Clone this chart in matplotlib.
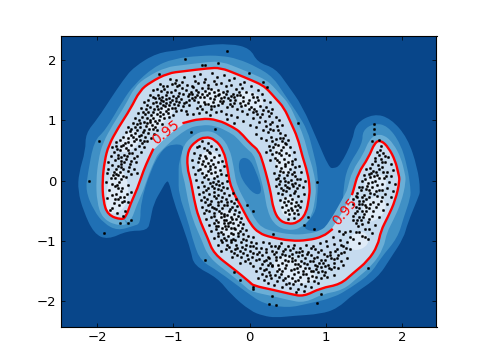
import matplotlib
matplotlib.use('Agg')
import matplotlib.pyplot as plt
from matplotlib.path import Path
from matplotlib.patches import PathPatch

# kontur der 0.95 linie, aussen (oberer mond)
upper_moon = [(-1.68,-0.65),(-1.86,-0.57),(-1.92,-0.33),(-1.93,0.0),(-1.90,0.33),(-1.85,0.58),(-1.72,0.88),
    (-1.56,1.19),(-1.44,1.49),(-1.30,1.63),(-1.07,1.78),(-0.87,1.81),(-0.55,1.86),(-0.38,1.87),(-0.16,1.76),
    (0.01,1.67),(0.17,1.58),(0.25,1.49),(0.34,1.36),(0.45,1.21),(0.54,0.96),(0.63,0.71),(0.69,0.41),(0.76,0.13),
    (0.79,-0.12),(0.78,-0.28),(0.74,-0.55),(0.63,-0.70),(0.50,-0.72),(0.38,-0.65),(0.31,-0.46),(0.28,-0.22),
    (0.24,0.0),(0.18,0.28),(0.12,0.50),(0.01,0.61),(-0.12,0.80),(-0.21,0.88),(-0.42,1.01),(-0.64,1.03),
    (-0.88,0.95),(-1.26,0.53),(-1.32,0.37),(-1.39,0.17),(-1.47,-0.13),(-1.56,-0.38),(-1.62,-0.60)]
# unterer mond, liste beginnt rechts an der beschriftung
lower_moon = [(1.09,-0.80),(0.96,-0.93),(0.76,-0.99),(0.54,-1.0),(0.28,-0.94),(0.12,-0.87),(0.01,-0.72),
    (-0.08,-0.50),(-0.25,-0.12),(-0.29,0.22),(-0.34,0.50),(-0.45,0.68),(-0.58,0.73),(-0.71,0.65),(-0.81,0.50),
    (-0.82,0.22),(-0.77,0.0),(-0.73,-0.30),(-0.67,-0.61),(-0.55,-0.95),(-0.47,-1.21),(-0.21,-1.46),(0.01,-1.69),
    (0.05,-1.74),(0.31,-1.81),(0.54,-1.88),(0.71,-1.92),(0.93,-1.78),(1.19,-1.72),(1.36,-1.53),(1.55,-1.33),
    (1.68,-1.08),(1.72,-0.83),(1.81,-0.61),(1.91,-0.33),(1.97,0.0),(1.95,0.12),(1.91,0.33),(1.82,0.55),
    (1.72,0.67),(1.64,0.63),(1.56,0.38),(1.42,0.12),(1.36,-0.17),(1.34,-0.24)]

# aeussere baender
band_outer = [(-2.04,-0.88),(-2.18,-0.50),(-2.25,-0.17),(-2.24,0.12),(-2.15,0.50),(-2.15,0.78),(-1.99,1.03),
    (-1.82,1.36),(-1.66,1.66),(-1.52,1.88),(-1.21,2.12),(-0.90,2.16),(-0.64,2.24),(-0.25,2.27),(0.01,2.19),
    (0.10,1.96),(0.34,1.86),(0.50,1.58),(0.69,1.24),(0.89,0.66),(1.04,0.22),(1.10,0.20),(1.19,0.25),(1.35,0.66),
    (1.39,0.95),(1.63,1.11),(1.85,1.03),(2.07,0.71),(2.20,0.22),(2.24,-0.17),(2.21,-0.28),(2.07,-0.71),(2.02,-0.95),
    (1.85,-1.28),(1.68,-1.61),(1.36,-1.88),(1.15,-2.12),(0.93,-2.21),(0.58,-2.24),(0.34,-2.27),(0.18,-2.24),
    (0.01,-2.16),(-0.25,-1.88),(-0.42,-1.61),(-0.73,-1.41),(-0.77,-1.16),(-0.87,-0.78),(-1.0,-0.33),(-1.06,0.0),
    (-1.10,-0.03),(-1.14,-0.12),(-1.26,-0.38),(-1.30,-0.66),(-1.34,-0.83),(-1.60,-0.83),(-1.86,-0.98)]
band_middle = [(-2.12,0.12),(-2.04,0.66),(-1.89,0.83),(-1.66,1.33),(-1.52,1.58),(-1.26,1.88),(-1.0,2.02),(-0.64,2.07),
    (-0.38,2.07),(-0.16,2.02),(0.10,1.88),(0.31,1.71),(0.45,1.44),(0.63,1.11),(0.76,0.83),(0.83,0.50),(0.90,0.12),
    (0.89,-0.28),(0.86,-0.55),(0.67,-0.80),(0.93,-0.86),(1.13,-0.75),(1.22,-0.45),(1.23,-0.12),(1.28,0.22),(1.48,0.61),
    (1.48,0.83),(1.63,0.95),(1.81,0.91),(1.98,0.61),(2.07,0.22),(2.11,-0.12),(2.11,-0.28),(2.02,-0.61),(1.94,-0.95),
    (1.72,-1.28),(1.59,-1.54),(1.32,-1.78),(1.10,-1.94),(0.76,-2.04),(0.50,-2.11),(0.18,-2.04),(-0.03,-1.86),
    (-0.42,-1.49),(-0.64,-1.33),(-0.73,-1.05),(-0.81,-0.66),(-0.93,-0.22),(-0.93,0.05),(-0.93,0.33),(-0.84,0.58),
    (-1.0,0.61),(-1.14,0.53),(-1.30,0.17),(-1.43,-0.38),(-1.43,-0.71),(-1.52,-0.75),(-1.73,-0.83),(-1.91,-0.71),
    (-2.04,-0.50),(-2.15,-0.17)]
hole_patch = [(-0.14,0.37),(-0.01,0.38),(0.08,0.17),(0.17,-0.17),(0.10,-0.25),(-0.03,-0.12),(-0.14,0.12)]

# helle flecken im innern
light_spots = [
    [(-1.85,-0.55),(-1.65,-0.45),(-1.60,-0.10),(-1.70,0.20),(-1.82,0.05),(-1.85,-0.25)],
    [(-1.35,0.95),(-1.10,1.25),(-1.0,1.15),(-1.18,0.95),(-1.28,0.82)],
    [(-1.65,0.45),(-1.45,0.65),(-1.50,0.85),(-1.70,0.65)],
    [(-0.65,1.45),(-0.35,1.50),(-0.35,1.30),(-0.65,1.25)],
    [(-0.10,1.50),(0.18,1.35),(0.10,1.15),(-0.15,1.28)],
    [(0.35,0.60),(0.50,0.60),(0.55,0.20),(0.42,0.10),(0.35,0.35)],
    [(0.42,-0.30),(0.60,-0.30),(0.62,-0.55),(0.45,-0.58)],
    [(-0.62,0.45),(-0.42,0.45),(-0.38,0.10),(-0.55,0.05),(-0.65,0.20)],
    [(-0.45,-0.55),(-0.20,-0.50),(-0.10,-0.85),(-0.32,-0.95)],
    [(0.30,-1.35),(0.55,-1.25),(0.70,-1.45),(0.90,-1.62),(0.60,-1.70),(0.42,-1.55)],
    [(1.30,-0.95),(1.50,-0.85),(1.55,-1.05),(1.35,-1.15)],
    [(1.48,-0.40),(1.72,-0.25),(1.78,-0.50),(1.55,-0.70)],
    [(1.50,0.00),(1.75,0.10),(1.78,-0.12),(1.58,-0.20)],
]

dots_left = [(-1.83,-0.49),(-1.81,-0.46),(-1.74,-0.54),(-1.66,-0.58),(-1.63,-0.51),(-1.71,-0.41),(-1.78,-0.37),(-1.67,-0.36),
    (-1.64,-0.33),(-1.59,-0.36),(-1.87,-0.29),(-1.73,-0.31),(-1.70,-0.27),(-1.75,-0.22),(-1.61,-0.22),(-1.55,-0.19),
    (-1.84,-0.15),(-1.69,-0.17),(-1.67,-0.12),(-1.77,-0.09),(-1.74,-0.07),(-1.59,-0.07),(-1.88,-0.03),(-1.71,-0.02),
    (-1.69,0.02),(-1.82,0.04),(-1.76,0.05),(-1.73,0.09),(-1.62,0.06),(-1.55,0.11),(-1.87,0.13),(-1.78,0.14),(-1.70,0.15),
    (-1.66,0.19),(-1.75,0.20),(-1.72,0.24),(-1.80,0.26),(-1.58,0.22),(-1.52,0.19),(-1.85,0.31),(-1.68,0.28),(-1.64,0.30),
    (-1.77,0.34),(-1.73,0.37),(-1.56,0.33),(-1.49,0.30),(-1.82,0.41),(-1.69,0.39),(-1.65,0.43),(-1.61,0.40),(-1.78,0.47),
    (-1.54,0.46),(-1.47,0.41),(-1.42,0.48),(-1.74,0.52),(-1.70,0.50),(-1.62,0.54),(-1.59,0.51),(-1.81,0.55),(-1.50,0.53),
    (-1.66,0.59),(-1.63,0.62),(-1.56,0.59),(-1.45,0.57),(-1.38,0.56),(-1.75,0.64),(-1.70,0.68),(-1.52,0.65),(-1.49,0.69),
    (-1.41,0.63),(-1.34,0.66),(-1.66,0.73),(-1.59,0.71),(-1.55,0.75),(-1.45,0.74),(-1.37,0.72),(-1.29,0.71),(-1.62,0.80),
    (-1.50,0.79),(-1.47,0.83),(-1.40,0.81),(-1.33,0.79),(-1.25,0.77),(-1.60,0.89),(-1.55,0.86),(-1.43,0.88),(-1.36,0.90),
    (-1.32,0.86),(-1.21,0.83),(-1.53,0.95),(-1.48,0.93),(-1.39,0.97),(-1.35,0.95),(-1.28,0.92),(-1.22,0.95),(-1.15,0.93),
    (-1.50,1.04),(-1.45,1.01),(-1.41,1.05),(-1.31,1.00),(-1.26,1.04),(-1.19,1.01),(-1.12,1.03),(-1.05,1.05),(-1.46,1.12),
    (-1.37,1.10),(-1.33,1.13),(-1.29,1.09),(-1.22,1.11),(-1.18,1.14),(-1.14,1.10),(-1.07,1.12),(-1.0,1.09),(-1.42,1.21),
    (-1.36,1.19),(-1.30,1.22),(-1.25,1.19),(-1.21,1.23),(-1.16,1.20),(-1.11,1.23),(-1.07,1.19),(-1.02,1.21),(-0.96,1.15),
    (-0.90,1.17),(-1.38,1.30),(-1.33,1.33),(-1.27,1.28),(-1.23,1.31),(-1.18,1.29),(-1.13,1.32),(-1.09,1.28),(-1.04,1.31),
    (-0.99,1.27),(-0.94,1.25),(-0.87,1.24),(-0.83,1.16),(-1.31,1.42),(-1.26,1.39),(-1.20,1.42),(-1.15,1.38),(-1.10,1.41),
    (-1.06,1.37),(-1.01,1.40),(-0.96,1.36),(-0.90,1.35),(-0.84,1.31),(-0.80,1.26),(-1.27,1.50),(-1.21,1.52),(-1.16,1.48),
    (-1.12,1.51),(-1.03,1.47),(-0.98,1.50),(-0.92,1.45),(-0.87,1.43),(-0.81,1.40),(-0.76,1.36),(-1.17,1.60),(-1.08,1.57),
    (-1.02,1.60),(-0.95,1.56),(-0.89,1.54),(-0.83,1.50),(-0.77,1.47),(-1.04,1.69),(-0.96,1.67),(-0.88,1.63),(-0.82,1.59),
    (-0.76,1.56),(-0.86,1.72),(-1.79,0.09),(-1.85,0.20),(-1.60,0.16),(-1.48,0.12),(-1.64,-0.27),(-1.80,-0.24),(-1.69,0.33),
    (-1.57,0.27),(-1.72,0.43),(-1.58,0.46),(-1.68,0.57),(-1.44,0.68),(-1.57,0.82),(-1.42,0.76),(-1.27,0.85),(-1.24,0.89),
    (-1.35,1.03),(-1.17,1.07),(-1.09,1.16),(-1.14,1.26),(-1.19,1.36),(-1.05,1.25),(-0.97,1.32)]
dots_top = [(-0.73,1.73),(-0.65,1.77),(-0.58,1.69),(-0.49,1.79),(-0.43,1.71),(-0.33,1.75),(-0.27,1.67),(-0.20,1.70),(-0.12,1.60),
    (-0.07,1.64),(0.02,1.56),(0.11,1.50),(0.16,1.44),(-0.72,1.65),(-0.67,1.61),(-0.60,1.63),(-0.54,1.58),(-0.47,1.65),(-0.44,1.60),
    (-0.37,1.62),(-0.31,1.56),(-0.24,1.59),(-0.18,1.52),(-0.10,1.53),(-0.05,1.47),(0.03,1.44),(0.10,1.39),(0.19,1.33),(0.27,1.30),
    (-0.74,1.55),(-0.70,1.50),(-0.63,1.53),(-0.58,1.48),(-0.51,1.52),(-0.47,1.46),(-0.41,1.50),(-0.35,1.47),(-0.29,1.49),(-0.22,1.44),
    (-0.16,1.42),(-0.08,1.38),(-0.01,1.34),(0.07,1.30),(0.13,1.24),(0.22,1.22),(0.30,1.18),(-0.76,1.44),(-0.69,1.42),(-0.65,1.38),
    (-0.56,1.41),(-0.52,1.36),(-0.45,1.40),(-0.38,1.36),(-0.33,1.39),(-0.26,1.34),(-0.19,1.33),(-0.13,1.28),(-0.06,1.25),(0.02,1.22),
    (0.09,1.15),(0.16,1.10),(0.25,1.07),(0.34,1.06),(0.38,1.01),(-0.73,1.33),(-0.67,1.30),(-0.60,1.31),(-0.54,1.27),(-0.48,1.30),
    (-0.42,1.25),(-0.36,1.28),(-0.30,1.22),(-0.23,1.24),(-0.17,1.18),(-0.10,1.16),(-0.03,1.10),(0.05,1.04),(0.12,0.97),(0.20,0.99),
    (0.27,0.94),(0.36,0.90),(0.43,0.92),(-0.69,1.20),(-0.62,1.18),(-0.57,1.14),(-0.50,1.19),(-0.44,1.13),(-0.37,1.16),(-0.31,1.10),
    (-0.24,1.08),(-0.16,1.05),(-0.08,0.99),(0.0,0.92),(0.08,0.88),(0.17,0.83),(0.24,0.80),(0.31,0.83),(0.40,0.79),(0.47,0.76),
    (-0.82,1.10),(-0.74,1.10),(-0.66,1.12),(-0.52,1.08),(-0.29,1.02),(-0.20,0.96),(0.09,0.77),(0.15,0.70),(0.22,0.68),(0.28,0.72),
    (0.35,0.69),(0.42,0.65),(0.50,0.68),(0.25,0.58),(0.31,0.55),(0.37,0.59),(0.44,0.55),(0.53,0.56),(0.21,0.47),(0.29,0.44),
    (0.34,0.48),(0.41,0.43),(0.48,0.46),(0.58,0.47),(0.27,0.34),(0.33,0.37),(0.39,0.31),(0.45,0.35),(0.51,0.30),(0.60,0.36),
    (0.34,0.24),(0.41,0.21),(0.46,0.25),(0.53,0.19),(0.59,0.23),(0.65,0.25),(0.32,0.13),(0.38,0.10),(0.44,0.14),(0.49,0.09),
    (0.55,0.11),(0.60,0.07),(0.67,0.14),(0.34,0.02),(0.40,-0.01),(0.45,0.04),(0.50,-0.03),(0.54,0.01),(0.59,-0.04),(0.66,0.03),
    (0.72,-0.01),(0.35,-0.09),(0.41,-0.12),(0.47,-0.08),(0.52,-0.13),(0.57,-0.09),(0.62,-0.13),(0.70,-0.11),(0.37,-0.20),(0.43,-0.23),
    (0.48,-0.18),(0.53,-0.24),(0.58,-0.20),(0.64,-0.25),(0.71,-0.22),(0.40,-0.32),(0.46,-0.29),(0.51,-0.34),(0.56,-0.30),(0.61,-0.35),
    (0.68,-0.33),(0.42,-0.43),(0.48,-0.41),(0.54,-0.45),(0.59,-0.42),(0.66,-0.44),(0.46,-0.52),(0.52,-0.56),(0.58,-0.53),(0.64,-0.56),
    (0.50,-0.63),(0.58,-0.62),(0.56,0.33),(0.38,0.45),(0.30,0.65),(-0.11,1.24),(-0.35,1.32),(-0.50,1.24),(0.13,1.06),(0.21,0.90),
    (0.46,0.62),(0.28,1.12),(-0.40,1.44),(-0.55,1.53),(-0.25,1.40),(-0.62,1.44),(0.05,1.38),(-0.14,1.47)]
dots_mid = [(-0.62,0.65),(-0.55,0.63),(-0.50,0.58),(-0.69,0.55),(-0.60,0.54),(-0.56,0.50),(-0.44,0.52),(-0.73,0.46),(-0.65,0.43),
    (-0.59,0.40),(-0.52,0.45),(-0.46,0.39),(-0.40,0.43),(-0.75,0.34),(-0.68,0.31),(-0.61,0.33),(-0.54,0.29),(-0.50,0.34),(-0.41,0.30),
    (-0.36,0.33),(-0.74,0.23),(-0.65,0.20),(-0.59,0.24),(-0.52,0.19),(-0.45,0.22),(-0.39,0.18),(-0.34,0.24),(-0.71,0.11),(-0.63,0.13),
    (-0.57,0.09),(-0.51,0.12),(-0.43,0.08),(-0.38,0.11),(-0.31,0.09),(-0.70,0.01),(-0.62,-0.02),(-0.55,0.02),(-0.48,-0.03),(-0.41,0.0),
    (-0.36,-0.04),(-0.30,-0.01),(-0.68,-0.11),(-0.60,-0.09),(-0.54,-0.13),(-0.49,-0.09),(-0.42,-0.14),(-0.35,-0.10),(-0.29,-0.13),
    (-0.66,-0.22),(-0.61,-0.19),(-0.53,-0.23),(-0.46,-0.19),(-0.41,-0.24),(-0.34,-0.20),(-0.27,-0.24),(-0.22,-0.20),(-0.64,-0.32),
    (-0.56,-0.30),(-0.50,-0.34),(-0.44,-0.29),(-0.38,-0.33),(-0.31,-0.30),(-0.24,-0.33),(-0.18,-0.31),(-0.62,-0.43),(-0.55,-0.40),
    (-0.49,-0.44),(-0.42,-0.40),(-0.36,-0.45),(-0.29,-0.41),(-0.23,-0.44),(-0.16,-0.42),(-0.60,-0.53),(-0.53,-0.51),(-0.47,-0.54),
    (-0.40,-0.50),(-0.34,-0.55),(-0.27,-0.51),(-0.21,-0.55),(-0.14,-0.52),(-0.57,-0.63),(-0.50,-0.61),(-0.44,-0.65),(-0.38,-0.60),
    (-0.31,-0.65),(-0.25,-0.61),(-0.18,-0.64),(-0.11,-0.62),(-0.53,-0.73),(-0.47,-0.71),(-0.41,-0.75),(-0.34,-0.71),(-0.28,-0.76),
    (-0.22,-0.71),(-0.15,-0.74),(-0.08,-0.72),(-0.50,-0.84),(-0.44,-0.81),(-0.38,-0.85),(-0.31,-0.81),(-0.25,-0.86),(-0.19,-0.81),
    (-0.12,-0.84),(-0.05,-0.82),(-0.46,-0.95),(-0.41,-0.91),(-0.34,-0.95),(-0.28,-0.91),(-0.22,-0.96),(-0.15,-0.92),(-0.09,-0.96),
    (-0.02,-0.92),(0.05,-0.94),(-0.42,-1.06),(-0.36,-1.02),(-0.30,-1.06),(-0.24,-1.02),(-0.18,-1.06),(-0.11,-1.02),(-0.05,-1.06),
    (0.02,-1.01),(0.09,-1.04),(-0.37,-1.16),(-0.31,-1.13),(-0.25,-1.17),(-0.19,-1.13),(-0.13,-1.17),(-0.06,-1.13),(0.01,-1.17),
    (0.08,-1.12),(0.15,-1.11),(-0.23,-1.26),(-0.17,-1.24),(-0.11,-1.27),(-0.04,-1.23),(0.03,-1.27),(0.10,-1.22),(-0.12,-1.36),
    (-0.06,-1.33),(0.01,-1.37),(0.08,-1.32),(-0.47,-0.46),(-0.33,-0.58),(-0.26,-0.69),(-0.20,-0.78),(-0.15,-0.87),(-0.52,0.25),
    (-0.45,0.14),(-0.40,-0.07),(-0.30,-0.36),(-0.26,-0.47),(-0.36,-0.78),(-0.24,-0.99),(-0.10,-1.10),(-0.58,-0.36)]
dots_bottom = [(0.17,-1.01),(0.25,-1.03),(0.33,-1.08),(0.41,-1.04),(0.50,-1.09),(0.58,-1.06),(0.66,-1.11),(0.74,-1.07),(0.83,-1.08),
    (0.92,-1.04),(1.0,-1.0),(1.09,-0.94),(0.21,-1.13),(0.29,-1.16),(0.37,-1.12),(0.44,-1.17),(0.53,-1.15),(0.61,-1.19),(0.69,-1.16),
    (0.77,-1.19),(0.86,-1.14),(0.94,-1.15),(1.02,-1.09),(1.11,-1.05),(1.19,-0.98),(0.16,-1.23),(0.24,-1.26),(0.32,-1.22),(0.40,-1.27),
    (0.47,-1.24),(0.56,-1.28),(0.63,-1.25),(0.72,-1.28),(0.80,-1.24),(0.89,-1.26),(0.97,-1.21),(1.05,-1.18),(1.14,-1.14),(1.22,-1.08),
    (1.28,-1.02),(0.19,-1.33),(0.27,-1.36),(0.35,-1.32),(0.43,-1.37),(0.51,-1.34),(0.59,-1.38),(0.67,-1.34),(0.75,-1.38),(0.83,-1.34),
    (0.91,-1.36),(0.99,-1.31),(1.07,-1.28),(1.16,-1.24),(1.24,-1.19),(1.32,-1.13),(0.14,-1.44),(0.22,-1.46),(0.30,-1.42),(0.38,-1.47),
    (0.46,-1.44),(0.54,-1.48),(0.62,-1.44),(0.70,-1.49),(0.78,-1.45),(0.87,-1.47),(0.94,-1.43),(1.03,-1.40),(1.11,-1.36),(1.20,-1.33),
    (1.28,-1.29),(0.08,-1.50),(0.16,-1.55),(0.25,-1.52),(0.33,-1.57),(0.41,-1.54),(0.50,-1.58),(0.58,-1.55),(0.66,-1.60),(0.74,-1.55),
    (0.82,-1.58),(0.90,-1.52),(0.99,-1.51),(1.07,-1.47),(1.16,-1.44),(1.23,-1.39),(0.11,-1.62),(0.19,-1.64),(0.28,-1.62),(0.36,-1.67),
    (0.44,-1.64),(0.52,-1.69),(0.60,-1.66),(0.68,-1.71),(0.77,-1.66),(0.85,-1.67),(0.93,-1.62),(1.02,-1.60),(1.10,-1.57),(0.32,-1.73),
    (0.43,-1.76),(0.53,-1.78),(0.63,-1.80),(0.71,-1.83),(0.81,-1.76),(0.61,-1.85),(0.26,-1.29),(0.46,-1.31),(0.66,-1.42),(0.86,-1.39),
    (1.06,-1.23),(0.36,-1.50),(0.56,-1.61),(0.76,-1.62),(0.96,-1.36),(0.34,-1.18),(0.56,-1.22),(0.75,-1.22),(0.16,-1.38),(0.30,-1.39),
    (0.48,-1.40),(0.63,-1.52),(0.83,-1.50),(1.15,-1.29),(1.04,-1.44)]
dots_right = [(1.22,-0.88),(1.31,-0.84),(1.17,-0.83),(1.36,-0.96),(1.44,-1.03),(1.39,-0.85),(1.47,-0.91),(1.55,-0.97),
    (1.42,-0.76),(1.51,-0.80),(1.61,-0.87),(1.36,-0.58),(1.46,-0.66),(1.55,-0.69),(1.65,-0.73),
    (1.41,-0.50),(1.50,-0.56),(1.60,-0.58),(1.70,-0.61),(1.39,-0.43),(1.48,-0.39),(1.57,-0.46),(1.66,-0.44),
    (1.75,-0.49),(1.36,-0.31),(1.44,-0.33),(1.53,-0.30),(1.62,-0.36),(1.72,-0.33),(1.80,-0.38),(1.41,-0.21),(1.50,-0.24),(1.58,-0.20),
    (1.67,-0.26),(1.77,-0.23),(1.85,-0.28),(1.44,-0.11),(1.52,-0.14),(1.61,-0.10),(1.70,-0.16),(1.80,-0.13),(1.88,-0.17),(1.47,-0.01),
    (1.55,-0.04),(1.64,0.0),(1.73,-0.06),(1.83,-0.03),(1.91,-0.06),(1.50,0.09),(1.58,0.06),(1.67,0.10),(1.76,0.04),(1.86,0.07),
    (1.53,0.19),(1.62,0.16),(1.70,0.20),(1.80,0.14),(1.88,0.18),(1.60,0.28),(1.68,0.26),(1.77,0.30),(1.85,0.27),(1.64,0.38),
    (1.72,0.36),(1.81,0.39),(1.67,0.48),(1.75,0.46),(1.72,0.57),(1.39,-0.71),(1.57,-0.63),(1.49,-0.34),(1.66,-0.18),(1.54,-0.09),
    (1.59,0.12),(1.74,0.22),(1.43,-0.61),(1.47,-0.50),(1.52,-0.43),(1.41,-0.28),(1.46,-0.16)]
dots_stray = [(-0.29,2.14),(-0.85,2.01),(-0.62,1.91),(-0.58,1.91),(-0.41,1.94),(-1.19,1.76),(-1.98,0.65),(-2.11,0.0),
    (-1.91,-0.86),(-1.70,-0.70),(-1.60,-0.70),(-1.56,-0.65),(-0.59,-1.31),(-0.13,-1.64),(-0.21,-1.51),(0.25,-2.04),
    (0.34,-2.06),(0.29,-1.91),(0.04,-1.76),(0.05,-1.80),(0.88,-2.02),(0.93,-1.88),(1.55,-1.44),(1.63,0.93),(1.63,0.86),
    (1.63,0.78),(1.61,0.66),(1.70,0.68),(0.64,0.95),(0.88,-0.03),(-0.01,1.78),(0.18,1.63),(0.23,1.55),(-0.77,0.81),
    (-0.45,0.85),(0.84,-0.80),(0.31,-0.88),(0.05,-0.50),(-0.04,-0.40),(0.77,-0.61),(0.71,-0.73)]
# dichte stellen, nachgetragen
dots_dense = [(-1.76,-0.30),(-1.72,-0.13),(-1.81,-0.06),(-1.66,0.07),(-1.75,0.11),(-1.68,0.23),(-1.62,0.35),(-1.52,0.38),(-1.75,0.58),
    (-1.60,0.64),(-1.53,0.72),(-1.38,0.66),(-1.50,0.88),(-1.38,0.84),(-1.30,0.97),(-1.43,0.95),(-1.24,0.98),(-1.40,1.14),(-1.27,1.14),
    (-1.20,1.18),(-1.34,1.25),(-1.16,1.33),(-1.09,1.35),(-1.02,1.34),(-0.98,1.21),(-0.93,1.31),(-1.24,1.36),(-1.08,1.46),(-0.94,1.40),
    (-0.86,1.28),(-0.79,1.33),(-0.79,1.44),(-1.14,1.56),(-0.98,1.62),(-0.92,1.59),(-0.71,1.38),(-0.68,1.47),(-0.60,1.38),(-0.53,1.45),
    (-0.46,1.35),(-0.42,1.42),(-0.31,1.43),(-0.28,1.37),(-0.20,1.38),(-0.12,1.41),(-0.65,1.23),(-0.58,1.27),(-0.46,1.23),(-0.39,1.32),
    (-0.26,1.27),(-0.20,1.28),(-0.09,1.32),(-0.02,1.28),(0.06,1.19),(0.11,1.33),(0.18,1.17),(0.24,1.15),(0.10,1.10),(0.04,1.13),
    (-0.01,1.19),(0.30,0.97),(0.37,0.84),(0.27,0.86),(0.40,0.71),(0.44,0.71),(0.33,0.61),(0.48,0.60),(0.27,0.50),(0.41,0.50),(0.52,0.42),
    (0.36,0.34),(0.47,0.28),(0.55,0.27),(0.40,0.16),(0.51,0.15),(0.58,0.15),(0.37,0.05),(0.47,0.00),(0.62,0.03),(0.38,-0.05),(0.44,-0.16),
    (0.55,-0.06),(0.65,-0.07),(0.49,-0.11),(0.60,-0.17),(0.45,-0.35),(0.54,-0.37),(0.64,-0.40),(0.50,-0.48),(0.56,-0.49),(0.62,-0.48),
    (-0.66,0.58),(-0.53,0.47),(-0.66,0.37),(-0.57,0.37),(-0.48,0.28),(-0.62,0.28),(-0.54,0.16),(-0.68,0.17),(-0.47,0.05),(-0.60,0.06),
    (-0.52,-0.04),(-0.44,-0.05),(-0.57,-0.16),(-0.47,-0.13),(-0.38,-0.16),(-0.60,-0.27),(-0.47,-0.25),(-0.36,-0.27),(-0.52,-0.38),(-0.41,-0.35),
    (-0.33,-0.40),(-0.21,-0.37),(-0.57,-0.48),(-0.44,-0.47),(-0.38,-0.53),(-0.19,-0.48),(-0.30,-0.57),(-0.46,-0.58),(-0.23,-0.63),(-0.15,-0.58),
    (-0.41,-0.68),(-0.34,-0.66),(-0.28,-0.70),(-0.13,-0.68),(-0.44,-0.76),(-0.32,-0.75),(-0.24,-0.79),(-0.10,-0.78),(-0.42,-0.86),(-0.35,-0.89),
    (-0.22,-0.88),(-0.09,-0.88),(-0.38,-0.98),(-0.31,-0.99),(-0.19,-0.99),(-0.05,-0.98),(0.00,-1.08),(-0.27,-1.10),(-0.16,-1.11),(0.05,-1.09),
    (-0.21,-1.20),(-0.08,-1.20),(0.05,-1.20),(0.12,-1.30),(-0.02,-1.30),(0.05,-1.42),(0.12,-1.18),(0.22,-1.19),(0.28,-1.09),(0.39,-1.09),
    (0.47,-1.13),(0.57,-1.12),(0.65,-1.18),(0.81,-1.12),(0.90,-1.18),(0.21,-1.31),(0.34,-1.26),(0.43,-1.22),(0.52,-1.25),(0.60,-1.31),
    (0.69,-1.24),(0.84,-1.29),(0.93,-1.31),(1.02,-1.25),(0.24,-1.40),(0.37,-1.40),(0.55,-1.34),(0.63,-1.38),(0.71,-1.37),(0.79,-1.33),(0.89,-1.42),
    (0.99,-1.41),(1.10,-1.30),(0.19,-1.48),(0.27,-1.57),(0.42,-1.49),(0.58,-1.46),(0.73,-1.44),(0.80,-1.50),(0.95,-1.50),(1.10,-1.43),(0.22,-1.58),
    (0.38,-1.60),(0.47,-1.62),(0.64,-1.64),(0.70,-1.55),(0.87,-1.59),(0.97,-1.57),(0.24,-1.69),(0.48,-1.72),(0.57,-1.72),(0.73,-1.74),
    (0.90,-1.70),(1.20,-1.20),(1.26,-1.11),(1.12,-1.17),(1.20,-1.06),(1.31,-0.94),(1.25,-0.85),(1.44,-0.85),(1.51,-0.94),(1.36,-0.65),
    (1.48,-0.72),(1.41,-0.65),(1.57,-0.80),(1.49,-0.61),(1.38,-0.53),(1.44,-0.45),(1.53,-0.50),(1.62,-0.50),(1.36,-0.38),(1.43,-0.39),
    (1.51,-0.40),(1.58,-0.38),(1.68,-0.38),(1.39,-0.25),(1.47,-0.27),(1.56,-0.28),(1.63,-0.22),(1.74,-0.28),(1.48,-0.10),(1.57,-0.16),(1.67,-0.08),
    (1.74,-0.16),(1.51,0.03),(1.60,-0.02),(1.70,0.04),(1.79,0.08),(1.56,0.11),(1.63,0.08),(1.75,0.14),(1.58,0.21),(1.66,0.15),(1.74,0.30),(1.65,0.33),
    (1.70,0.42),(1.78,0.40),(1.71,0.50)]


def curve(points, closed=True):
    # quadratische kurve, die eckpunkte sind die kontrollpunkte
    if closed:
        pts = list(points) + [points[0]]
        mids = [((a[0]+b[0])/2, (a[1]+b[1])/2) for a, b in zip(pts, pts[1:])]
        verts = [mids[-1]]
        codes = [Path.MOVETO]
        for p, m in zip(pts, mids):
            verts += [p, m]
            codes += [Path.CURVE3, Path.CURVE3]
        return Path(verts, codes)
    mids = [((a[0]+b[0])/2, (a[1]+b[1])/2) for a, b in zip(points, points[1:])]
    verts = [points[0], mids[0]]
    codes = [Path.MOVETO, Path.LINETO]
    for p, m in zip(points[1:-1], mids[1:]):
        verts += [p, m]
        codes += [Path.CURVE3, Path.CURVE3]
    verts.append(points[-1])
    codes.append(Path.LINETO)
    return Path(verts, codes)


def fill(ax, points, color, lw=0):
    ax.add_patch(PathPatch(curve(points), facecolor=color, edgecolor=color, lw=lw, joinstyle='round'))


fig, ax = plt.subplots(figsize=(4.85, 3.63), dpi=100)
fig.subplots_adjust(left=0.125, right=0.9, bottom=0.1, top=0.9)
ax.set_facecolor('#08468a')

fill(ax, band_outer, '#2070b4')
fill(ax, band_middle, '#4090c5')
fill(ax, hole_patch, '#2070b4')
for moon in (upper_moon, lower_moon):
    fill(ax, moon, '#6aaed6', lw=9)
for moon in (upper_moon, lower_moon):
    fill(ax, moon, '#c6dbef')
for spot in light_spots:
    fill(ax, spot, '#dfebf7', lw=3)

# linie mit luecken fuer die beschriftung
gap = upper_moon.index((-0.88,0.95))
upper_line = upper_moon[gap+1:] + upper_moon[:gap+1]
for line in (upper_line, lower_moon):
    ax.add_patch(PathPatch(curve(line, closed=False), facecolor='none', edgecolor='red', lw=1.7))
ax.text(-1.10, 0.80, '0.95', color='red', fontsize=10, rotation=38, ha='center', va='center', zorder=4)
ax.text(1.25, -0.51, '0.95', color='red', fontsize=10, rotation=50, ha='center', va='center', zorder=4)

for dots in (dots_left, dots_top, dots_mid, dots_bottom, dots_right, dots_stray, dots_dense):
    ax.scatter(*zip(*dots), s=2.8, c='k', lw=0.3, zorder=3)

ax.set_xlim(-2.477, 2.45)
ax.set_ylim(-2.42, 2.39)
ax.set_xticks([-2, -1, 0, 1, 2])
ax.set_yticks([-2, -1, 0, 1, 2])
ax.tick_params(direction='in', top=True, right=True, labelsize=9.5, length=3, width=0.5, pad=3)
fig.savefig('out.png', dpi=100)
